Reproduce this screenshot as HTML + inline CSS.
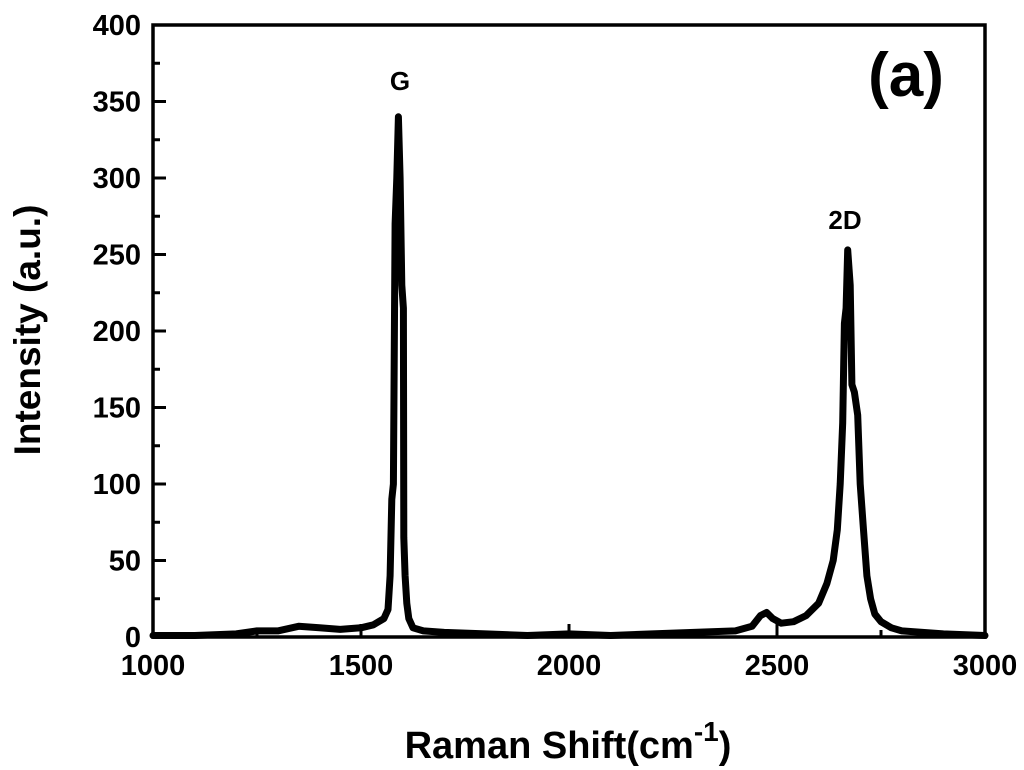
<!DOCTYPE html>
<html><head><meta charset="utf-8"><style>
body{margin:0;background:#fff;}
svg{display:block;font-family:"Liberation Sans",Arial,sans-serif;font-weight:bold;}
</style></head><body>
<svg id="chart" width="1024" height="770" viewBox="0 0 1024 770"></svg>
<script>
const xTicks=[1000,1500,2000,2500,3000];
const yTicks=[0,50,100,150,200,250,300,350,400];
const shifts=[1000,1100,1200,1250,1300,1350,1400,1450,1500,1530,1555,1565,1570,1574,1578,1582,1586,1590,1594,1598,1602,1603,1606,1610,1615,1625,1650,1700,1800,1900,2000,2100,2200,2300,2400,2440,2460,2475,2490,2510,2540,2570,2600,2620,2635,2645,2652,2658,2662,2666,2670,2676,2680,2686,2694,2700,2708,2716,2725,2735,2750,2775,2800,2850,2900,3000];
const intensity=[1,1,2,4,4,7,6,5,6,8,12,18,40,90,100,270,300,340,300,230,215,65,40,22,12,6,4,3,2,1,2,1,2,3,4,7,14,16,12,9,10,14,22,35,50,70,100,140,205,215,253,230,165,160,145,100,70,40,25,15,10,6,4,3,2,1];
const L=153,R=985,T=25,B=637;
const sx=v=>L+(v-1000)/2000*(R-L);
const sy=v=>B-v/400*(B-T);
const svg=document.getElementById('chart');
const NS='http://www.w3.org/2000/svg';
function mk(tag,attrs,parent){const e=document.createElementNS(NS,tag);for(const k in attrs)e.setAttribute(k,attrs[k]);(parent||svg).appendChild(e);return e;}
const pts=shifts.map((s,i)=>sx(s).toFixed(1)+','+sy(intensity[i]).toFixed(1)).join(' ');
const line=mk('polyline',{points:pts,fill:'none',stroke:'#000','stroke-width':7,'stroke-linejoin':'round','stroke-linecap':'round'});


const frame=mk('rect',{x:L,y:T,width:R-L,height:B-T,fill:'none',stroke:'#000','stroke-width':3.5});


for(let v=0;v<=400;v+=25){const major=v%50===0;const t=mk('line',{x1:L,x2:L+(major?13:7),y1:sy(v),y2:sy(v),stroke:'#000','stroke-width':3});

}
yTicks.forEach(v=>{const t=mk('text',{x:L-12,y:sy(v)+10,'text-anchor':'end','font-size':29});t.textContent=v;

});
for(let v=1000;v<=3000;v+=250){const major=v%500===0;const t=mk('line',{x1:sx(v),x2:sx(v),y1:B,y2:B-(major?13:7),stroke:'#000','stroke-width':3});

}
xTicks.forEach(v=>{const t=mk('text',{x:sx(v),y:675,'text-anchor':'middle','font-size':29});t.textContent=v;

});
</script>
<svg style="position:absolute;left:0;top:0" width="1024" height="770">
<text x="568" y="758" text-anchor="middle" font-size="38">Raman Shift(cm<tspan dy="-17" font-size="28">-1</tspan><tspan dy="17">)</tspan></text>
<text transform="translate(40,330) rotate(-90)" text-anchor="middle" font-size="37">Intensity (a.u.)</text>
<text x="400" y="90" text-anchor="middle" font-size="26">G</text>
<text x="845" y="229" text-anchor="middle" font-size="26">2D</text>
<text x="906" y="96" text-anchor="middle" font-size="62">(a)</text>
</svg>
</body></html>
